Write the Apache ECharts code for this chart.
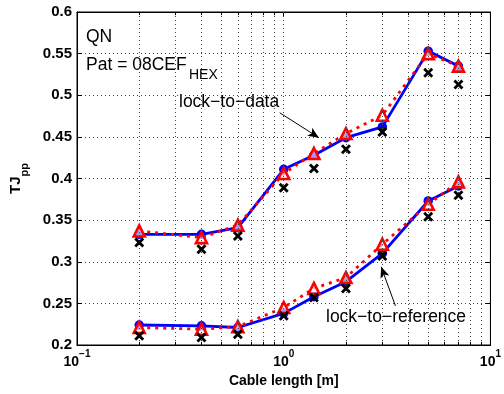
<!DOCTYPE html>
<html>
<head>
<meta charset="utf-8">
<script src="https://cdn.jsdelivr.net/npm/echarts@6/dist/echarts.min.js"></script>
<style>
  html, body { margin: 0; padding: 0; background: #fff; }
  #chart { width: 504px; height: 394px; }
</style>
</head>
<body>
<div id="chart"></div>
<script>
// Cable lengths [m]
const cableLength = [0.2, 0.4, 0.6, 1, 1.4, 2, 3, 5, 7];

// lock-to-data: measured (blue), model (red), estimate (black x)
const dataBlue  = [0.333, 0.333, 0.341, 0.411, 0.428, 0.449, 0.462, 0.553, 0.535];
const dataRed   = [0.337, 0.329, 0.344, 0.406, 0.430, 0.454, 0.476, 0.550, 0.535];
const dataCross = [0.323, 0.315, 0.331, 0.389, 0.412, 0.435, 0.456, 0.527, 0.513];

// lock-to-reference: measured (blue), model (red), estimate (black x)
const refBlue  = [0.224, 0.223, 0.221, 0.238, 0.258, 0.276, 0.310, 0.373, 0.391];
const refRed   = [0.221, 0.219, 0.222, 0.245, 0.268, 0.281, 0.321, 0.369, 0.396];
const refCross = [0.211, 0.209, 0.213, 0.235, 0.257, 0.268, 0.307, 0.354, 0.380];

// Axis ranges and tick positions
const xRange = [0.1, 10];
const yRange = [0.2, 0.6];
const yStep = 0.05;
const xMinorTicks = [0.2, 0.3, 0.4, 0.5, 0.6, 0.7, 0.8, 0.9, 2, 3, 4, 5, 6, 7, 8, 9];
const xGridLines = [0.2, 0.3, 0.4, 0.5, 0.6, 0.7, 0.8, 0.9, 1, 2, 3, 4, 5, 6, 7, 8, 9];

const FONT = '"Liberation Sans", Arial, Helvetica, sans-serif';
const pair = (a, b) => a.map((x, i) => [x, b[i]]);

// filled "x" marker outline
const crossPath = 'path://M0,2 L2,0 L5,3 L8,0 L10,2 L7,5 L10,8 L8,10 L5,7 L2,10 L0,8 L3,5 Z';

const gridDot = { color: '#444', width: 1, type: [1, 3] };

// vertical grid lines and minor ticks (bottom and top edges)
const vGrid = xGridLines.map(v => ({ xAxis: v }));
const minorTickLen = 0.0038;
const minorTicks = [];
xMinorTicks.forEach(v => {
  minorTicks.push([{ coord: [v, yRange[0]] }, { coord: [v, yRange[0] + minorTickLen] }]);
  minorTicks.push([{ coord: [v, yRange[1]] }, { coord: [v, yRange[1] - minorTickLen] }]);
});

const chart = echarts.init(document.getElementById('chart'), null, { renderer: 'canvas' });

const xLabelFmt = v => {
  const e = Math.round(Math.log10(v));
  return '{b|10}{s|' + (e < 0 ? '\u2212' + (-e) : e) + '}';
};

const xLabelRich = {
  b: { fontFamily: FONT, fontWeight: 'bold', fontSize: 14, color: '#000', lineHeight: 20, verticalAlign: 'bottom' },
  s: { fontFamily: FONT, fontWeight: 'bold', fontSize: 10, color: '#000', lineHeight: 20, verticalAlign: 'top' }
};

const blueLine = { color: '#0000ff', width: 2.8 };
const redLine = { color: '#ff0000', width: 2.8, type: [3, 5] };
const triStyle = { color: 'rgba(255,255,255,0.6)', borderColor: '#ff0000', borderWidth: 2.6 };
const crossStyle = { color: '#000', opacity: 1 };

chart.setOption({
  animation: false,
  backgroundColor: '#fff',
  grid: { left: 76, right: 6, top: 12, bottom: 49, show: true, borderColor: '#000', borderWidth: 1, backgroundColor: 'transparent' },
  xAxis: [
    {
      type: 'log', logBase: 10, min: xRange[0], max: xRange[1], position: 'bottom',
      axisLine: { show: true, lineStyle: { color: '#000', width: 1 } },
      axisTick: { show: true, inside: true, length: 5, lineStyle: { color: '#000' } },
      splitLine: { show: false },
      minorTick: { show: false },
      axisLabel: { margin: 4, formatter: xLabelFmt, rich: xLabelRich },
      name: 'Cable length [m]', nameLocation: 'middle', nameGap: 28,
      nameTextStyle: { fontFamily: FONT, fontWeight: 'bold', fontSize: 14, color: '#000' }
    },
    {
      type: 'log', logBase: 10, min: xRange[0], max: xRange[1], position: 'top',
      axisLine: { show: true, lineStyle: { color: '#000', width: 1 } },
      axisTick: { show: true, inside: true, length: 5, lineStyle: { color: '#000' } },
      axisLabel: { show: false }, splitLine: { show: false }
    }
  ],
  yAxis: [
    {
      type: 'value', min: yRange[0], max: yRange[1], interval: yStep, position: 'left',
      axisLine: { show: true, lineStyle: { color: '#000', width: 1 } },
      axisTick: { show: true, inside: true, length: 5, lineStyle: { color: '#000' } },
      splitLine: { show: true, lineStyle: gridDot },
      axisLabel: { margin: 5, fontFamily: FONT, fontWeight: 'bold', fontSize: 15, color: '#000' },
      name: '{t|TJ}{p|pp}', nameLocation: 'middle', nameGap: 47,
      nameTextStyle: {
        rich: {
          t: { fontFamily: FONT, fontWeight: 'bold', fontSize: 15, color: '#000', lineHeight: 22, verticalAlign: 'top' },
          p: { fontFamily: FONT, fontWeight: 'bold', fontSize: 11, color: '#000', lineHeight: 22, verticalAlign: 'bottom' }
        }
      }
    },
    {
      type: 'value', min: yRange[0], max: yRange[1], interval: yStep, position: 'right',
      axisLine: { show: true, lineStyle: { color: '#000', width: 1 } },
      axisTick: { show: true, inside: true, length: 5, lineStyle: { color: '#000' } },
      axisLabel: { show: false }, splitLine: { show: false }
    }
  ],
  series: [
    {
      // vertical grid lines
      type: 'line', data: [], silent: true, z: 1,
      markLine: {
        silent: true, symbol: ['none', 'none'], animation: false,
        label: { show: false },
        lineStyle: gridDot,
        data: vGrid
      }
    },
    {
      // minor ticks on the log axis
      type: 'line', data: [], silent: true, z: 1,
      markLine: {
        silent: true, symbol: ['none', 'none'], animation: false,
        label: { show: false },
        lineStyle: { color: '#000', width: 1, type: 'solid' },
        data: minorTicks
      }
    },
    {
      name: 'lock-to-data measured', type: 'line', data: pair(cableLength, dataBlue), z: 3,
      symbol: 'circle', symbolSize: 9.5, lineStyle: blueLine, itemStyle: { color: '#0000ff' }
    },
    {
      name: 'lock-to-reference measured', type: 'line', data: pair(cableLength, refBlue), z: 3,
      symbol: 'circle', symbolSize: 9.5, lineStyle: blueLine, itemStyle: { color: '#0000ff' }
    },
    {
      name: 'lock-to-data model', type: 'line', data: pair(cableLength, dataRed), z: 4,
      symbol: 'triangle', symbolSize: 11, lineStyle: redLine, itemStyle: triStyle
    },
    {
      name: 'lock-to-reference model', type: 'line', data: pair(cableLength, refRed), z: 4,
      symbol: 'triangle', symbolSize: 11, lineStyle: redLine, itemStyle: triStyle
    },
    {
      name: 'lock-to-data estimate', type: 'scatter', data: pair(cableLength, dataCross), z: 5,
      symbol: crossPath, symbolSize: 10, itemStyle: crossStyle
    },
    {
      name: 'lock-to-reference estimate', type: 'scatter', data: pair(cableLength, refCross), z: 5,
      symbol: crossPath, symbolSize: 10, itemStyle: crossStyle
    },
    {
      // annotation arrows
      type: 'line', data: [], silent: true, z: 6,
      markLine: {
        silent: true, symbol: ['none', 'arrow'], symbolSize: [7, 11], animation: false,
        label: { show: false },
        lineStyle: { color: '#000', width: 1, type: 'solid' },
        data: [
          [{ coord: [0.956, 0.479] }, { coord: [1.48, 0.449] }],
          [{ coord: [3.47, 0.247] }, { coord: [2.96, 0.294] }]
        ]
      }
    }
  ],
  graphic: [
    { type: 'text', left: 86, top: 28, style: { text: 'QN', font: '17.5px ' + FONT, fill: '#000' } },
    { type: 'text', left: 86, top: 56, style: { text: 'Pat = 08CEF', font: '17.5px ' + FONT, fill: '#000' } },
    { type: 'text', left: 189, top: 68, style: { text: 'HEX', font: '14px ' + FONT, fill: '#000' } },
    { type: 'text', left: 179, top: 93, style: { text: 'lock\u2212to\u2212data', font: '17.5px ' + FONT, fill: '#000' } },
    { type: 'text', left: 326, top: 308, style: { text: 'lock\u2212to\u2212reference', font: '17.5px ' + FONT, fill: '#000' } }
  ]
});
</script>
</body>
</html>
